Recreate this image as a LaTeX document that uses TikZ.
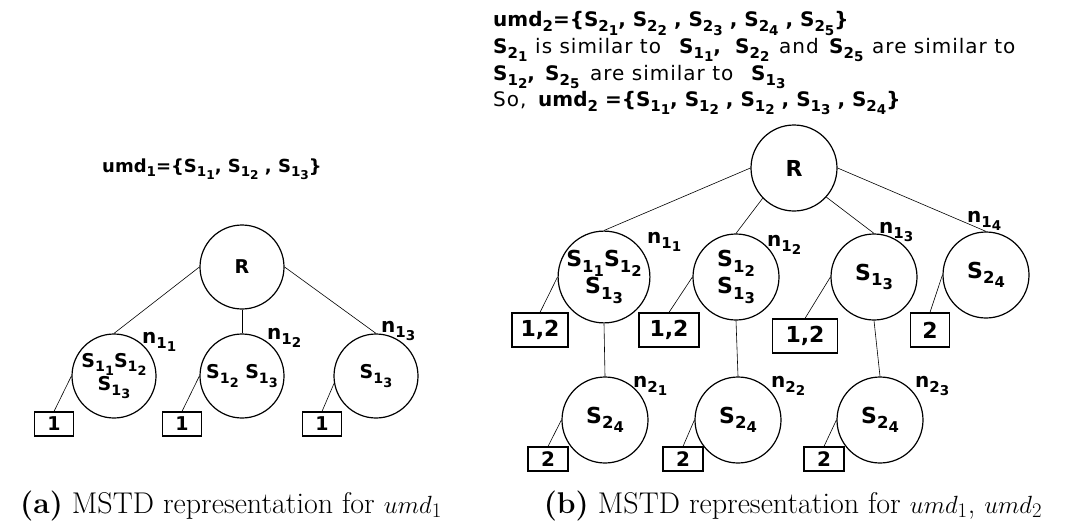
\documentclass[tikz,border=0pt]{standalone}
\usepackage{fontspec}
\usepackage{graphicx}
\newfontfamily\dv{DejaVu Sans}
\newfontfamily\dvw[LetterSpace=5]{DejaVu Sans}
% lowered, shrunken indices: first level and second level
\newcommand{\lowr}[1]{\raisebox{-0.25em}{\scalebox{0.75}{#1}}}
\newcommand{\lowrr}[1]{\raisebox{-0.25em}{\scalebox{0.9}{#1}}}
\newcommand{\Sn}[2]{S\lowr{#1\lowrr{#2}}}
\newcommand{\Nn}[2]{n\lowr{#1\lowrr{#2}}}
\newcommand{\Um}[1]{umd\lowr{#1}}
\tikzset{
  treenodeA/.style={circle, draw, line width=1.2pt, minimum size=84pt, inner sep=0pt,
    align=center, font=\dv\bfseries\fontsize{19}{20}\selectfont},
  treenodeB/.style={circle, draw, line width=1.2pt, minimum size=86pt, inner sep=0pt,
    align=center, font=\dv\bfseries\fontsize{22}{23}\selectfont},
  leafA/.style={draw, line width=1.2pt, minimum height=24pt, minimum width=39pt, inner sep=0pt,
    font=\dv\bfseries\fontsize{19}{20}\selectfont},
  leafB/.style={draw, line width=1.2pt, minimum height=34pt, inner sep=0pt,
    font=\dv\bfseries\fontsize{22}{23}\selectfont},
  leafC/.style={draw, line width=1.2pt, minimum height=24pt, minimum width=40pt, inner sep=0pt,
    font=\dv\bfseries\fontsize{20}{21}\selectfont},
  link/.style={line width=0.6pt},
  nlabel/.style={anchor=base west, inner sep=0pt, font=\dv\bfseries\fontsize{20}{21}\selectfont},
  boldtxt/.style={anchor=base west, inner sep=0pt, font=\dv\bfseries\fontsize{20}{21}\selectfont},
  plaintxt/.style={anchor=base west, inner sep=0pt, font=\dvw\fontsize{20}{21}\selectfont},
  caption/.style={anchor=base, inner sep=0pt, font=\fontsize{30}{34}\selectfont}
}
\begin{document}
\begin{tikzpicture}[x=1pt,y=-1pt]
\useasboundingbox (0,0) rectangle (1073,530);

% ---------- (a) tree for umd_1 ----------
\node[boldtxt, font=\dv\bfseries\fontsize{18}{19}\selectfont] (hA) at (102,172)
  {\Um{1}=\{\Sn{1}{1}, \Sn{1}{2} , \Sn{1}{3}\}};

\node[treenodeA] (aR) at (242,267) {R};
\node[treenodeA] (a1) at (114,376) {\Sn{1}{1}\Sn{1}{2}\\\Sn{1}{3}};
\node[treenodeA] (a2) at (242,376) {\Sn{1}{2} \Sn{1}{3}};
\node[treenodeA] (a3) at (376,376) {\Sn{1}{3}};

\node[leafA] (ab1) at (54,424) {1};
\node[leafA] (ab2) at (182,424) {1};
\node[leafA] (ab3) at (322,424) {1};

\draw[link] (aR.west) -- (a1.north);
\draw[link] (aR.south) -- (a2.north);
\draw[link] (aR.east) -- (a3.north);
\draw[link] (a1.west) -- (ab1.north);
\draw[link] (a2.west) -- (ab2.north);
\draw[link] (a3.190) -- (ab3.north);

\node[nlabel] (an1) at (142,343) {\Nn{1}{1}};
\node[nlabel] (an2) at (267,339) {\Nn{1}{2}};
\node[nlabel] (an3) at (381,332) {\Nn{1}{3}};

% ---------- (b) header text ----------
\node[boldtxt] (h1) at (493,27)
  {\Um{2}=\{\Sn{2}{1}, \Sn{2}{2} , \Sn{2}{3} , \Sn{2}{4} , \Sn{2}{5}\}};

\node[boldtxt]  (h2a) at (493,53) {\Sn{2}{1}};
\node[plaintxt] (h2b) at (535,53) {is similar to};
\node[boldtxt]  (h2c) at (679,53) {\Sn{1}{1},};
\node[boldtxt]  (h2d) at (735,53) {\Sn{2}{2}};
\node[plaintxt] (h2e) at (779,53) {and};
\node[boldtxt]  (h2f) at (829,53) {\Sn{2}{5}};
\node[plaintxt] (h2g) at (872,53) {are similar to};

\node[boldtxt]  (h3a) at (493,80) {\Sn{1}{2},};
\node[boldtxt]  (h3b) at (545,80) {\Sn{2}{5}};
\node[plaintxt] (h3c) at (590,80) {are similar to};
\node[boldtxt]  (h3d) at (751,80) {\Sn{1}{3}};

\node[plaintxt] (h4a) at (493,106) {So,};
\node[boldtxt]  (h4b) at (538,106)
  {\Um{2} =\{\Sn{1}{1}, \Sn{1}{2} , \Sn{1}{2} , \Sn{1}{3} , \Sn{2}{4}\}};

% ---------- (b) tree for umd_1, umd_2 ----------
\node[treenodeB] (bR) at (794,168) {R};
\node[treenodeB] (b1) at (604,277) {\Sn{1}{1}\Sn{1}{2}\\\Sn{1}{3}};
\node[treenodeB] (b2) at (736,277) {\Sn{1}{2}\\\Sn{1}{3}};
\node[treenodeB] (b3) at (874,277) {\Sn{1}{3}};
\node[treenodeB] (b4) at (986,275) {\Sn{2}{4}};

\node[leafB, minimum width=56pt] (bb1) at (540,330) {1,2};
\node[leafB, minimum width=60pt] (bb2) at (669,330) {1,2};
\node[leafB, minimum width=65pt] (bb3) at (805,336) {1,2};
\node[leafB, minimum width=39pt] (bb4) at (930,330) {2};

\node[treenodeB] (c1) at (605,420) {\Sn{2}{4}};
\node[treenodeB] (c2) at (738,420) {\Sn{2}{4}};
\node[treenodeB] (c3) at (880,420) {\Sn{2}{4}};

\node[leafC] (cb1) at (548,459) {2};
\node[leafC] (cb2) at (683,459) {2};
\node[leafC] (cb3) at (824,459) {2};

\draw[link] (bR.west) -- (b1.north);
\draw[link] (bR.224) -- (b2.north);
\draw[link] (bR.-42) -- (b3.north);
\draw[link] (bR.east) -- (b4.north);
\draw[link] (b1.west) -- (bb1.north);
\draw[link] (b2.west) -- (bb2.north);
\draw[link] (b3.west) -- (bb3.north);
\draw[link] (b4.west) -- (bb4.north);
\draw[link] (b1.south) -- (c1.north);
\draw[link] (b2.south) -- (c2.north);
\draw[link] (b3.south) -- (c3.north);
\draw[link] (c1.west) -- (cb1.north);
\draw[link] (c2.west) -- (cb2.north);
\draw[link] (c3.west) -- (cb3.north);

\node[nlabel] (bn1) at (647,243) {\Nn{1}{1}};
\node[nlabel] (bn2) at (767,246) {\Nn{1}{2}};
\node[nlabel] (bn3) at (879,233) {\Nn{1}{3}};
\node[nlabel] (bn4) at (967,222) {\Nn{1}{4}};
\node[nlabel] (cn1) at (633,387) {\Nn{2}{1}};
\node[nlabel] (cn2) at (771,387) {\Nn{2}{2}};
\node[nlabel] (cn3) at (915,387) {\Nn{2}{3}};

% ---------- captions ----------
\node[caption] (capA) at (231,513) {\textbf{(a)} MSTD representation for $umd_1$};
\node[caption] (capB) at (793,513) {\textbf{(b)} MSTD representation for $umd_1$, $umd_2$};
\end{tikzpicture}
\end{document}
